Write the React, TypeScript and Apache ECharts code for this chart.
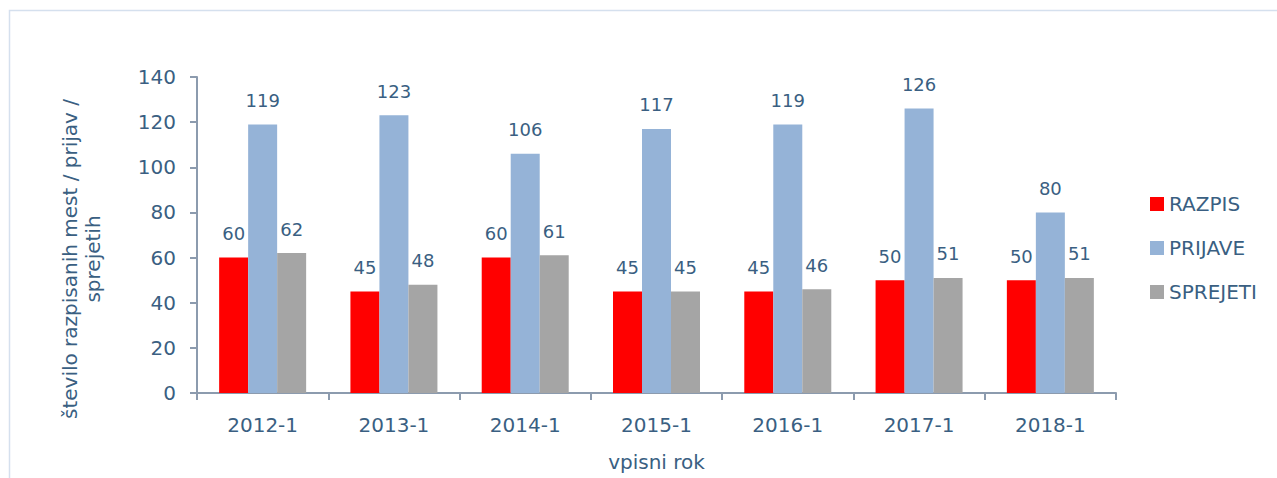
import React, { useEffect, useRef } from "react";
import * as echarts from "echarts";

const categories = ["2012-1", "2013-1", "2014-1", "2015-1", "2016-1", "2017-1", "2018-1"];
const razpis = [60, 45, 60, 45, 45, 50, 50];
const prijave = [119, 123, 106, 117, 119, 126, 80];
const sprejeti = [62, 48, 61, 45, 46, 51, 51];
const yTicks = { min: 0, max: 140, interval: 20 };

const TEXT = "#3A5F82";
const AXIS = "#8C9BAE";
const FONT = "DejaVu Sans";

export default function App() {
  const ref = useRef<HTMLDivElement>(null);
  useEffect(() => {
    if (!ref.current) return;
    const chart = echarts.init(ref.current, undefined, { renderer: "svg" });
    const label = {
      show: true,
      position: "top" as const,
      distance: 15,
      color: TEXT,
      fontFamily: FONT,
      fontSize: 18,
    };
    const mk = (name: string, data: number[], color: string) => ({
      name,
      type: "bar" as const,
      data,
      barWidth: 29,
      barGap: "0%",
      itemStyle: { color },
      label,
    });
    chart.setOption({
      animation: false,
      textStyle: { fontFamily: FONT },
      grid: { left: 197, right: 161, top: 77, bottom: 85, containLabel: false },
      legend: {
        orient: "vertical",
        left: 1150,
        top: 194,
        padding: 0,
        itemWidth: 14,
        itemHeight: 14,
        itemGap: 24,
        icon: "rect",
        textStyle: { color: TEXT, fontFamily: FONT, fontSize: 20 },
        data: ["RAZPIS", "PRIJAVE", "SPREJETI"],
      },
      xAxis: {
        type: "category",
        data: categories,
        boundaryGap: true,
        axisLine: { lineStyle: { color: AXIS, width: 2 } },
        axisTick: { show: true, length: 7, lineStyle: { color: AXIS, width: 2 } },
        axisLabel: { color: TEXT, fontFamily: FONT, fontSize: 20, margin: 22 },
        name: "vpisni rok",
        nameLocation: "middle",
        nameGap: 59,
        nameTextStyle: { color: TEXT, fontFamily: FONT, fontSize: 20 },
      },
      yAxis: {
        type: "value",
        min: yTicks.min,
        max: yTicks.max,
        interval: yTicks.interval,
        axisLine: { show: true, lineStyle: { color: AXIS, width: 2 } },
        axisTick: { show: true, length: 7, lineStyle: { color: AXIS, width: 2 } },
        splitLine: { show: false },
        axisLabel: { color: TEXT, fontFamily: FONT, fontSize: 20, margin: 21 },
      },
      graphic: [
        {
          type: "rect",
          shape: { x: 9.5, y: 10.5, width: 1400, height: 600 },
          style: { fill: "none", stroke: "#D5E0EE", lineWidth: 1.5 },
          silent: true,
          z: -10,
        },
        {
          type: "text",
          x: 81,
          y: 259,
          rotation: Math.PI / 2,
          style: {
            text: "število razpisanih mest / prijav /\nsprejetih",
            fill: TEXT,
            font: `20px "${FONT}"`,
            align: "center",
            verticalAlign: "middle",
            lineHeight: 23,
          },
        },
      ],
      series: [
        mk("RAZPIS", razpis, "#FF0000"),
        mk("PRIJAVE", prijave, "#95B3D7"),
        mk("SPREJETI", sprejeti, "#A5A5A5"),
      ],
    });
    return () => chart.dispose();
  }, []);
  return (
    <div
      ref={ref}
      style={{ position: "fixed", left: 0, top: 0, width: 1277, height: 478, background: "#fff" }}
    />
  );
}
